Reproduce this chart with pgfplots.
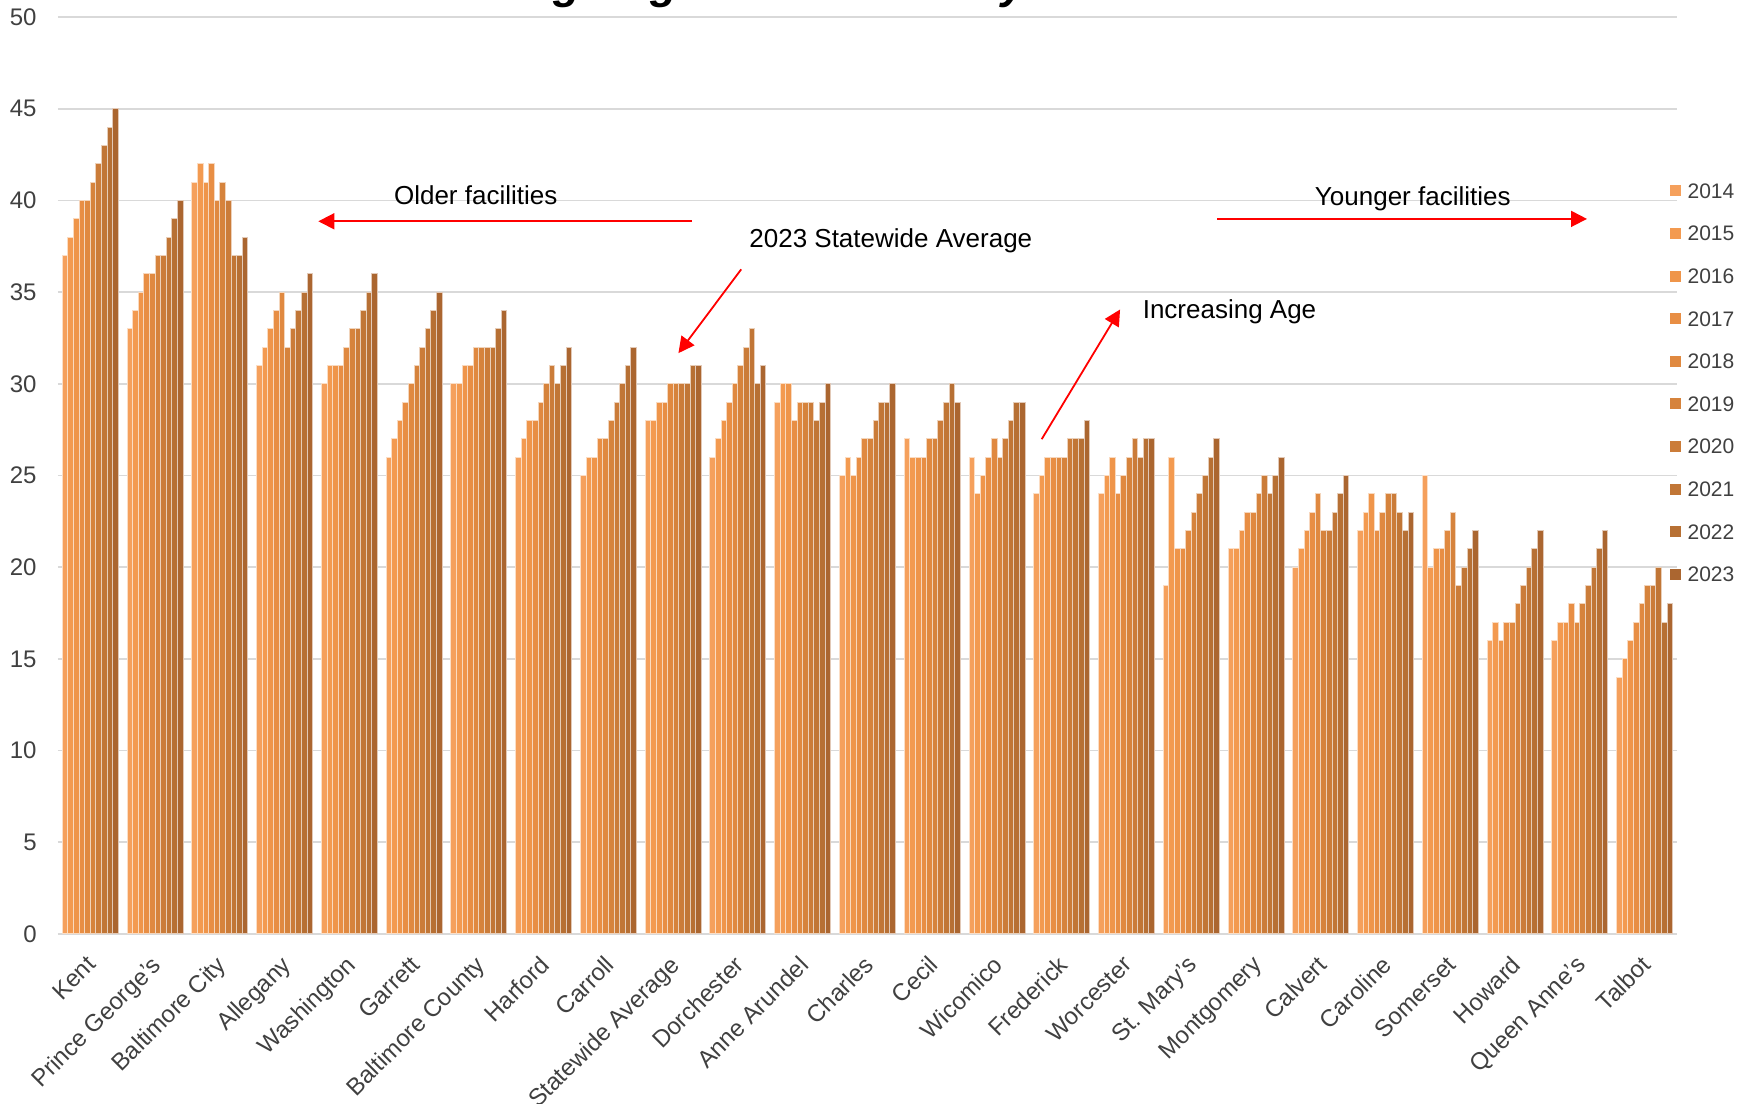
\documentclass[border=0pt]{standalone}
\usepackage{fontspec}
\setmainfont{Liberation Sans}
\usepackage{pgfplots}
\usepackage{pgfplotstable}
\pgfplotsset{compat=1.18}
\usetikzlibrary{arrows.meta}

\definecolor{y14}{HTML}{F5A05C}
\definecolor{y15}{HTML}{F39A50}
\definecolor{y16}{HTML}{EF954A}
\definecolor{y17}{HTML}{E88E44}
\definecolor{y18}{HTML}{E08940}
\definecolor{y19}{HTML}{D6833C}
\definecolor{y20}{HTML}{CB7C39}
\definecolor{y21}{HTML}{C17636}
\definecolor{y22}{HTML}{B77034}
\definecolor{y23}{HTML}{AB6630}
\definecolor{txt}{HTML}{404040}

% average age (years), one row per jurisdiction, columns 2014..2023
\pgfplotstableread{
x   a  b  c  d  e  f  g  h  i  j
0  37 38 39 40 40 41 42 43 44 45
1  33 34 35 36 36 37 37 38 39 40
2  41 42 41 42 40 41 40 37 37 38
3  31 32 33 34 35 32 33 34 35 36
4  30 31 31 31 32 33 33 34 35 36
5  26 27 28 29 30 31 32 33 34 35
6  30 30 31 31 32 32 32 32 33 34
7  26 27 28 28 29 30 31 30 31 32
8  25 26 26 27 27 28 29 30 31 32
9  28 28 29 29 30 30 30 30 31 31
10 26 27 28 29 30 31 32 33 30 31
11 29 30 30 28 29 29 29 28 29 30
12 25 26 25 26 27 27 28 29 29 30
13 27 26 26 26 27 27 28 29 30 29
14 26 24 25 26 27 26 27 28 29 29
15 24 25 26 26 26 26 27 27 27 28
16 24 25 26 24 25 26 27 26 27 27
17 19 26 21 21 22 23 24 25 26 27
18 21 21 22 23 23 24 25 24 25 26
19 20 21 22 23 24 22 22 23 24 25
20 22 23 24 22 23 24 24 23 22 23
21 25 20 21 21 22 23 19 20 21 22
22 16 17 16 17 17 18 19 20 21 22
23 16 17 17 18 17 18 19 20 21 22
24 14 15 16 17 18 19 19 20 17 18
}\agedata

\pgfplotsset{
  yr/.style 2 args={fill=#1, draw=white!65!#1, line width=0.5pt, bar shift=#2,
    legend image code/.code={\draw[##1,draw=none] (0pt,-2.75pt) rectangle (5.5pt,2.75pt);}},
}

\begin{document}
\begin{tikzpicture}
\begin{axis}[
  scale only axis, width=809.5pt, height=458.5pt,
  xmin=-0.5, xmax=24.5, ymin=0, ymax=50,
  ybar, bar width=0.0865,
  axis line style={draw=none},
  major tick length=0pt,
  ymajorgrids, grid style={gray!30, line width=0.85pt},
  ytick={0,5,...,50},
  xtick={0,...,24},
  xticklabels={Kent,Prince George's,Baltimore City,Allegany,Washington,Garrett,Baltimore County,Harford,Carroll,Statewide Average,Dorchester,Anne Arundel,Charles,Cecil,Wicomico,Frederick,Worcester,St. Mary's,Montgomery,Calvert,Caroline,Somerset,Howard,Queen Anne's,Talbot},
  /pgf/number format/assume math mode=true,
  yticklabel style={font=\fontsize{12}{14}\selectfont, text=txt, anchor=east, inner sep=0pt, xshift=-10.5pt},
  xticklabel style={font=\fontsize{12}{14}\selectfont, text=txt, xshift=-2.5pt, yshift=-10pt, rotate=45, anchor=north east, inner sep=0pt},
  clip=false,
  legend style={at={(0.9952,0.819)}, anchor=north west, draw=none, fill=none, inner sep=0pt,
    row sep=13.8pt, column sep=3.5pt, font=\fontsize{10.5}{12}\selectfont, text=txt,
    nodes={inner sep=0pt, text height=7.5pt, text depth=0pt}, cells={anchor=west}},
]
\addplot[yr={y14}{-0.38925}] table[x=x,y=a]{\agedata};
\addplot[yr={y15}{-0.30275}] table[x=x,y=b]{\agedata};
\addplot[yr={y16}{-0.21625}] table[x=x,y=c]{\agedata};
\addplot[yr={y17}{-0.12975}] table[x=x,y=d]{\agedata};
\addplot[yr={y18}{-0.04325}] table[x=x,y=e]{\agedata};
\addplot[yr={y19}{0.04325}] table[x=x,y=f]{\agedata};
\addplot[yr={y20}{0.12975}] table[x=x,y=g]{\agedata};
\addplot[yr={y21}{0.21625}] table[x=x,y=h]{\agedata};
\addplot[yr={y22}{0.30275}] table[x=x,y=i]{\agedata};
\addplot[yr={y23}{0.38925}] table[x=x,y=j]{\agedata};
\legend{2014,2015,2016,2017,2018,2019,2020,2021,2022,2023}

% cut-off title at the top edge
\node[font=\bfseries\itshape\fontsize{22.4}{26}\selectfont, anchor=base] at ([yshift=9pt]axis cs:11.9,50) {Average Age of Facilities by Jurisdiction};

% annotations
\node[font=\fontsize{13}{15}\selectfont] at (axis cs:5.95,40.26) {Older facilities};
\draw[red, line width=0.9pt, -{Triangle[length=8pt,width=8pt]}] (axis cs:9.29,38.86) -- (axis cs:3.52,38.86);
\node[font=\fontsize{13}{15}\selectfont] at (axis cs:12.36,37.82) {2023 Statewide Average};
\draw[red, line width=0.9pt, -{Triangle[length=8pt,width=8pt]}] (axis cs:10.05,36.24) -- (axis cs:9.08,31.67);
\node[font=\fontsize{13}{15}\selectfont] at (axis cs:17.59,33.93) {Increasing Age};
\draw[red, line width=0.9pt, -{Triangle[length=8pt,width=8pt]}] (axis cs:14.69,26.98) -- (axis cs:15.90,34.05);
\node[font=\fontsize{13}{15}\selectfont] at (axis cs:20.42,40.08) {Younger facilities};
\draw[red, line width=0.9pt, -{Triangle[length=8pt,width=8pt]}] (axis cs:17.40,38.99) -- (axis cs:23.11,38.99);
\end{axis}
\pgfresetboundingbox
\useasboundingbox ([xshift=-29pt,yshift=-85pt]current axis.south west) rectangle ([xshift=36pt,yshift=8.5pt]current axis.north east);
\end{tikzpicture}
\end{document}
